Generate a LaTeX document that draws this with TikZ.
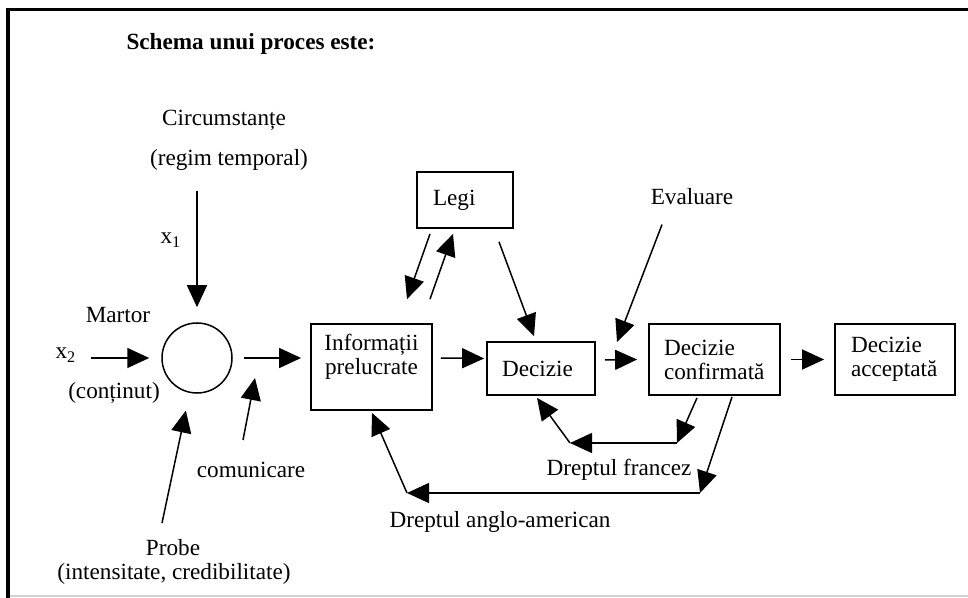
\documentclass[tikz,border=0pt]{standalone}
\usepackage{fontspec}
\setmainfont{Liberation Serif}
\usetikzlibrary{arrows.meta}

\tikzset{
  box/.style={draw, line width=0.9pt, inner sep=0pt},
  arr/.style={line width=0.75pt, -{Triangle[length=11pt,width=10pt]}}
}

\begin{document}
\fontsize{11.6}{12}\selectfont
\begin{tikzpicture}[x=0.5pt,y=-0.5pt,inner sep=0pt]
\useasboundingbox (0,0) rectangle (968,598);
\draw[line width=1.8pt] (8,598) -- (8,9.5) -- (968,9.5);
\draw[gray!35,line width=0.75pt] (10,596) -- (968,596);

\node[font=\bfseries] (title) at (251,44) {Schema unui proces este:};

\node (circum) at (224,120) {Circumstanțe};
\node (regim) at (229,160) {(regim temporal)};
\node (x1) at (171,240) {x\textsubscript{1}};
\node (martor) at (118,315) {Martor};
\node (x2) at (66,355) {x\textsubscript{2}};
\node (continut) at (114,393) {(conținut)};
\node (comunicare) at (251,470) {comunicare};
\node (probe) at (173,548) {Probe};
\node (intens) at (174,574) {(intensitate, credibilitate)};
\node (eval) at (692,197) {Evaluare};
\node (francez) at (619,470) {Dreptul francez};
\node (anglo) at (500,522) {Dreptul anglo-american};

\node[draw,circle,minimum size=35pt,line width=0.75pt] (sum) at (197,358) {};
\node[box,minimum width=60.5pt,minimum height=43pt] (info) at (371.5,367) {};
\node[align=center,anchor=north] (infotxt) at ([yshift=-5.5pt]info.north) {Informații\\prelucrate};
\node[box,minimum width=48pt,minimum height=28pt,inner xsep=8pt,text width=32pt,align=left] (legi) at (465,200) {Legi};
\node[box,minimum height=26.5pt,inner xsep=7.5pt,text width=39pt,align=left] (dec) at (541,368.5) {Decizie};
\node[box,minimum height=35.5pt,inner xsep=7.5pt,text width=50.5pt,align=left] (conf) at (714.5,359.5) {Decizie\\confirmată};
\node[box,minimum height=35.5pt,inner xsep=8pt,text width=44pt,align=left] (acc) at (895,359.5) {Decizie\\acceptată};

\coordinate (x1top) at (197,191);
\coordinate (x2in) at (91,358);
\coordinate (comA) at (243,440);
\coordinate (comB) at (255,378);
\coordinate (probA) at (162,523);
\coordinate (evB) at (617,342);
\coordinate (fr1) at (677,443);
\coordinate (fr2) at (570,443);
\coordinate (an1) at (700,493);
\coordinate (an2) at (407,493);

\draw[arr,shorten >=7.5pt] (x1top) -- (sum.north);
\draw[arr,shorten >=6pt] (x2in) -- (sum.west);
\draw[arr,shorten <=5.5pt,shorten >=4.5pt] (sum.east) -- (info.west |- sum.east);
\draw[arr] (comA) -- (comB);
\draw[arr,shorten >=9pt] (probA) -- (sum);

\draw[arr] ([shift={(8,-9)}]info.east) -- ([shift={(-2,-10)}]dec.west);
\draw[arr] ([shift={(9,-8.5)}]dec.east) -- ([xshift=-5.5pt]conf.west);
\draw[arr] ([xshift=5pt]conf.east) -- ([xshift=-5pt]acc.west);

\draw[arr] ([shift={(-35,5)}]legi.south) -- ([shift={(35.5,-24)}]info.north);
\draw[arr] ([shift={(58.5,-24)}]info.north) -- ([shift={(-12,5)}]legi.south);
\draw[arr] ([shift={(34,13)}]legi.south) -- ([shift={(-7,-5)}]dec.north);
\draw[arr] ([shift={(-30,19)}]eval.south) -- (evB);

\draw[arr] ([shift={(-17.5,2)}]conf.south) -- (fr1);
\draw[arr] (fr1) -- (fr2);
\draw[arr] (fr2) -- ([shift={(-4,2)}]dec.south);

\draw[arr] ([shift={(17.5,1)}]conf.south) -- (an1);
\draw[arr] (an1) -- (an2);
\draw[arr] (an2) -- ([shift={(0.5,2)}]info.south);
\end{tikzpicture}
\end{document}
